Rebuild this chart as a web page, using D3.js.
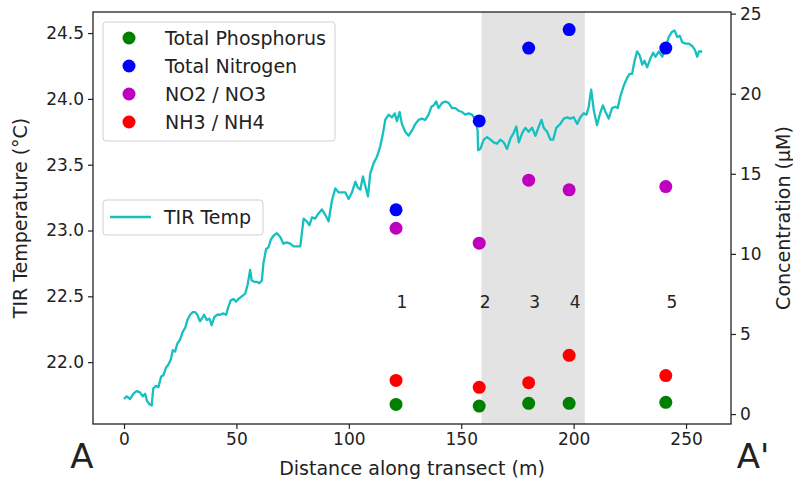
<!DOCTYPE html>
<html>
<head>
<meta charset="utf-8">
<script src="https://cdn.jsdelivr.net/npm/d3@7"></script>
<style>
  body { margin: 0; background: #fff; }
  svg text { font-family: "DejaVu Sans", sans-serif; fill: #222; }
</style>
</head>
<body>
<div id="chart-container" style="width:793px;height:485px"></div>
<script>
// TIR temperature transect with nutrient samples
const tirDist = [0, 1.2, 2.7, 4.2, 5.6, 7.1, 8.3, 9.4, 10.1, 11.3, 12.3, 13.0, 14.2, 15.3, 16.5, 17.5, 18.7, 19.7, 20.8, 21.7,
  22.7, 23.7, 24.9, 26.1, 27.2, 28.2, 29.4, 30.6, 31.6, 32.6, 33.8, 34.6, 35.6, 36.8, 38.0, 39.0, 40.1, 41.3, 42.7, 44.2,
  45.4, 46.4, 47.5, 48.7, 49.9, 50.9, 52.4, 53.9, 55.0, 56.1, 56.8, 57.9, 59.0, 60.2, 61.3, 62.0, 63.2, 64.2, 65.3, 66.5,
  68.0, 69.5, 70.9, 72.4, 73.9, 75.4, 76.9, 78.4, 79.9, 81.3, 82.5, 83.6, 85.0, 86.5, 88.0, 89.5, 91.0, 92.5, 94.0, 95.4,
  96.9, 98.4, 99.9, 101.4, 102.9, 103.9, 105.1, 106.3, 107.3, 108.5, 109.5, 111.0, 112.5, 114.0, 115.2, 116.2, 117.7, 119.2,
  120.4, 121.4, 122.6, 123.6, 125.1, 126.6, 128.1, 129.6, 131.0, 132.5, 134.0, 135.5, 136.7, 137.7, 138.9, 139.9, 141.5,
  142.9, 144.4, 145.9, 147.4, 148.8, 150.4, 151.8, 153.3, 154.8, 156.3, 157.3, 157.5, 158.5, 160.0, 161.5, 163.0, 164.4,
  165.9, 167.4, 168.9, 170.4, 171.9, 173.3, 174.5, 175.6, 177.1, 178.5, 180.0, 181.5, 183.0, 184.5, 185.7, 186.7, 188.2,
  189.7, 190.9, 192.3, 194.1, 195.6, 197.1, 198.6, 200.0, 201.6, 203.0, 204.5, 205.7, 206.7, 207.8, 209.0, 210.4, 211.6,
  213.0, 214.2, 215.6, 217.1, 218.6, 219.6, 220.8, 222.3, 223.8, 224.9, 226.0, 227.0, 228.2, 229.4, 230.5, 231.5, 232.7,
  234.2, 235.4, 236.4, 237.9, 239.4, 240.9, 242.3, 243.8, 244.9, 246.1, 247.2, 248.3, 249.8, 251.3, 252.8, 254.0, 255.0,
  255.7, 257.2];
const tirTemp = [21.72, 21.74, 21.72, 21.76, 21.78, 21.77, 21.74, 21.76, 21.71, 21.68, 21.67, 21.80, 21.82, 21.81, 21.89, 21.90, 21.96, 21.98, 22.02, 22.09,
  22.08, 22.14, 22.17, 22.23, 22.26, 22.32, 22.36, 22.38, 22.38, 22.36, 22.31, 22.33, 22.36, 22.32, 22.33, 22.28, 22.34, 22.36, 22.36, 22.37,
  22.36, 22.42, 22.47, 22.48, 22.46, 22.48, 22.50, 22.52, 22.59, 22.70, 22.62, 22.61, 22.61, 22.60, 22.62, 22.75, 22.86, 22.87, 22.93, 22.96,
  22.98, 22.95, 22.90, 22.91, 22.90, 22.88, 22.88, 22.88, 23.09, 23.07, 23.04, 23.10, 23.09, 23.13, 23.16, 23.12, 23.07, 23.23, 23.32, 23.29,
  23.29, 23.29, 23.24, 23.29, 23.37, 23.33, 23.31, 23.41, 23.34, 23.26, 23.43, 23.51, 23.56, 23.64, 23.74, 23.84, 23.88, 23.86,
  23.89, 23.83, 23.90, 23.81, 23.75, 23.72, 23.76, 23.81, 23.84, 23.85, 23.84, 23.88, 23.94, 23.95, 23.98, 23.93, 23.97,
  23.98, 23.97, 23.93, 23.93, 23.91, 23.90, 23.88, 23.89, 23.88, 23.84, 23.76, 23.61, 23.62, 23.69, 23.71, 23.69, 23.67,
  23.66, 23.69, 23.67, 23.62, 23.70, 23.74, 23.79, 23.67, 23.74, 23.78, 23.75, 23.78, 23.72, 23.79, 23.84, 23.78, 23.75,
  23.69, 23.69, 23.78, 23.81, 23.85, 23.86, 23.85, 23.86, 23.81, 23.86, 23.89, 23.88, 23.94, 24.07, 23.91, 23.80, 23.88,
  23.95, 23.90, 23.85, 23.93, 23.94, 23.93, 24.02, 24.10, 24.16, 24.19, 24.19, 24.28, 24.36, 24.33, 24.26, 24.29, 24.24,
  24.31, 24.35, 24.32, 24.36, 24.32, 24.38, 24.47, 24.51, 24.52, 24.47, 24.48, 24.43, 24.42, 24.42, 24.40, 24.37, 24.32,
  24.36, 24.36];

const siteDist = [121, 158, 180, 198, 241];
const siteLabels = ["1", "2", "3", "4", "5"];
const totalP = [0.6, 0.5, 0.67, 0.67, 0.73];
const totalN = [12.75, 18.3, 22.85, 24.0, 22.85];
const no2no3 = [11.6, 10.67, 14.6, 14.0, 14.2];
const nh3nh4 = [2.1, 1.67, 1.96, 3.67, 2.4];
const shadeSpan = [159, 205];

const xTicks = [0, 50, 100, 150, 200, 250];
const tempTicks = [22.0, 22.5, 23.0, 23.5, 24.0, 24.5];
const concTicks = [0, 5, 10, 15, 20, 25];

const width = 793, height = 485;
const margin = { top: 12, right: 62, bottom: 61, left: 93 };
const innerWidth = width - margin.left - margin.right;
const innerHeight = height - margin.top - margin.bottom;

const svg = d3.select('#chart-container').append('svg')
  .attr('width', width).attr('height', height);
const g = svg.append('g').attr('transform', `translate(${margin.left},${margin.top})`);

const x = d3.scaleLinear().domain([-13.8, 270]).range([0, innerWidth]);
const yT = d3.scaleLinear().domain([21.53, 24.66]).range([innerHeight, 0]);
const yC = d3.scaleLinear().domain([-0.62, 25.1]).range([innerHeight, 0]);

// shaded reach
g.append('rect')
  .attr('x', x(shadeSpan[0]))
  .attr('width', x(shadeSpan[1]) - x(shadeSpan[0]))
  .attr('y', 0).attr('height', innerHeight)
  .attr('fill', '#e3e3e3');

// temperature line
const line = d3.line().x((d, i) => x(tirDist[i])).y(d => yT(d));
g.append('path')
  .datum(tirTemp)
  .attr('d', line)
  .attr('fill', 'none')
  .attr('stroke', '#17bfbf')
  .attr('stroke-width', 2.3)
  .attr('stroke-linejoin', 'round');

// nutrient dots
const series = [
  { name: 'Total Phosphorus', values: totalP, color: '#008000' },
  { name: 'Total Nitrogen', values: totalN, color: '#0000ff' },
  { name: 'NO2 / NO3', values: no2no3, color: '#bf00bf' },
  { name: 'NH3 / NH4', values: nh3nh4, color: '#ff0000' }
];
series.forEach(s => {
  g.selectAll(null)
    .data(s.values)
    .enter().append('circle')
    .attr('cx', (d, i) => x(siteDist[i]))
    .attr('cy', d => yC(d))
    .attr('r', 6.5)
    .attr('fill', s.color);
});

// site numbers
g.selectAll('.site-label')
  .data(siteLabels)
  .enter().append('text')
  .attr('class', 'site-label')
  .attr('x', (d, i) => x(siteDist[i]) + 6)
  .attr('y', yC(7))
  .attr('dy', '0.35em')
  .attr('text-anchor', 'middle')
  .style('font-size', '17px')
  .text(d => d);

// axes
const bottom = g.append('g')
  .attr('transform', `translate(0,${innerHeight})`)
  .call(d3.axisBottom(x).tickValues(xTicks).tickSize(5).tickPadding(4));
const left = g.append('g')
  .call(d3.axisLeft(yT).tickValues(tempTicks).tickFormat(d3.format('.1f')).tickSize(5).tickPadding(4));
const right = g.append('g')
  .attr('transform', `translate(${innerWidth},0)`)
  .call(d3.axisRight(yC).tickValues(concTicks).tickSize(5).tickPadding(4));
[bottom, left, right].forEach(a => {
  a.select('.domain').remove();
  a.selectAll('.tick line').attr('stroke', '#222').attr('stroke-width', 1.2);
  a.selectAll('.tick text').style('font-size', '17px').attr('fill', '#222');
});

// frame
g.append('rect')
  .attr('width', innerWidth).attr('height', innerHeight)
  .attr('fill', 'none').attr('stroke', '#222').attr('stroke-width', 1.3);

// axis titles
svg.append('text')
  .attr('x', margin.left + innerWidth / 2)
  .attr('y', 475)
  .attr('text-anchor', 'middle')
  .style('font-size', '19px')
  .text('Distance along transect (m)');
svg.append('text')
  .attr('transform', `translate(27,${margin.top + innerHeight / 2}) rotate(-90)`)
  .attr('text-anchor', 'middle')
  .style('font-size', '19px')
  .text('TIR Temperature (°C)');
svg.append('text')
  .attr('transform', `translate(790,${margin.top + innerHeight / 2}) rotate(-90)`)
  .attr('text-anchor', 'middle')
  .style('font-size', '19px')
  .text('Concentration (μM)');

// transect end markers
svg.append('text').attr('x', 82).attr('y', 468).attr('text-anchor', 'middle')
  .style('font-size', '34px').text('A');
svg.append('text').attr('x', 753).attr('y', 468).attr('text-anchor', 'middle')
  .style('font-size', '34px').text("A'");

// nutrient legend
const leg = svg.append('g').attr('transform', 'translate(103,22)');
leg.append('rect')
  .attr('width', 232).attr('height', 119).attr('rx', 3)
  .attr('fill', '#fff').attr('fill-opacity', 0.85)
  .attr('stroke', '#d0d0d0');
leg.selectAll('g')
  .data(series)
  .enter().append('g')
  .attr('transform', (d, i) => `translate(0,${16 + i * 28})`)
  .call(item => {
    item.append('circle').attr('cx', 26).attr('r', 6.5).attr('fill', d => d.color);
    item.append('text').attr('x', 62).attr('dy', '0.35em')
      .style('font-size', '19px').text(d => d.name);
  });

// line legend
const leg2 = svg.append('g').attr('transform', 'translate(103,200)');
leg2.append('rect')
  .attr('width', 160).attr('height', 35).attr('rx', 3)
  .attr('fill', '#fff').attr('stroke', '#d0d0d0');
leg2.append('line')
  .attr('x1', 7).attr('x2', 48).attr('y1', 17).attr('y2', 17)
  .attr('stroke', '#17bfbf').attr('stroke-width', 2.3);
leg2.append('text').attr('x', 61).attr('y', 17).attr('dy', '0.35em')
  .style('font-size', '19px').text('TIR Temp');
</script>
</body>
</html>
